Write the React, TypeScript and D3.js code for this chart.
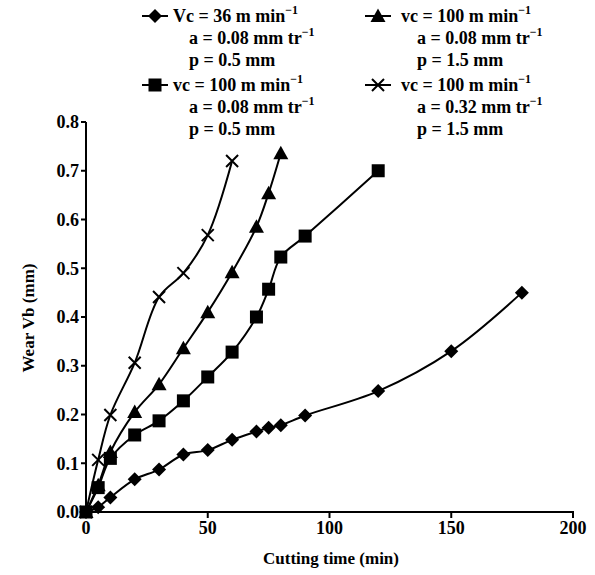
import React from "react";
import * as d3 from "d3";

const xTicks = [0, 50, 100, 150, 200];
const yTicks = [0, 0.1, 0.2, 0.3, 0.4, 0.5, 0.6, 0.7, 0.8];

const tDiamond = [0, 5, 10, 20, 30, 40, 50, 60, 70, 75, 80, 90, 120, 150, 179];
const vDiamond = [0, 0.01, 0.03, 0.067, 0.087, 0.118, 0.127, 0.148, 0.165, 0.173, 0.178, 0.198, 0.248, 0.33, 0.45];

const tSquare = [0, 5, 10, 20, 30, 40, 50, 60, 70, 75, 80, 90, 120];
const vSquare = [0, 0.05, 0.11, 0.158, 0.187, 0.228, 0.277, 0.328, 0.4, 0.457, 0.523, 0.566, 0.7];

const tTriangle = [0, 5, 10, 20, 30, 40, 50, 60, 70, 75, 80];
const vTriangle = [0, 0.055, 0.123, 0.205, 0.262, 0.336, 0.41, 0.492, 0.585, 0.654, 0.736];

const tCross = [0, 5, 10, 20, 30, 40, 50, 60];
const vCross = [0, 0.107, 0.199, 0.306, 0.441, 0.49, 0.568, 0.72];

const legendLines = [
  ["Vc = 36 m min", "a = 0.08 mm tr", "p = 0.5 mm"],
  ["vc = 100 m min", "a = 0.08 mm tr", "p = 0.5 mm"],
  ["vc = 100 m min", "a = 0.08 mm tr", "p = 1.5 mm"],
  ["vc = 100 m min", "a = 0.32 mm tr", "p = 1.5 mm"],
];

const FONT = "Liberation Serif";

function Marker({ kind, x, y }: { kind: string; x: number; y: number }) {
  if (kind === "diamond") {
    const s = 7;
    return <path d={`M${x},${y - s}L${x + s},${y}L${x},${y + s}L${x - s},${y}Z`} fill="#000" />;
  }
  if (kind === "square") {
    const s = 6.5;
    return <rect x={x - s} y={y - s} width={2 * s} height={2 * s} fill="#000" />;
  }
  if (kind === "triangle") {
    const s = 7.5;
    return <path d={`M${x},${y - s}L${x + s},${y + s * 0.8}L${x - s},${y + s * 0.8}Z`} fill="#000" />;
  }
  const s = 6;
  return (
    <path d={`M${x - s},${y - s}L${x + s},${y + s}M${x + s},${y - s}L${x - s},${y + s}`} stroke="#000" strokeWidth={2} />
  );
}

export default function App() {
  const W = 595, H = 575;
  const x = d3.scaleLinear().domain([0, 200]).range([86, 573]);
  const y = d3.scaleLinear().domain([0, 0.8]).range([512, 122]);
  const series = [
    { kind: "diamond", t: tDiamond, v: vDiamond },
    { kind: "square", t: tSquare, v: vSquare },
    { kind: "triangle", t: tTriangle, v: vTriangle },
    { kind: "cross", t: tCross, v: vCross },
  ];
  const line = d3
    .line<[number, number]>()
    .x((d) => x(d[0]))
    .y((d) => y(d[1]))
    .curve(d3.curveCatmullRom.alpha(0.5));

  const legendPos = [
    { mx: 155, my: 16, tx: 173, ax: 189 },
    { mx: 155, my: 85, tx: 173, ax: 189 },
    { mx: 378, my: 16, tx: 401, ax: 417 },
    { mx: 378, my: 85, tx: 401, ax: 417 },
  ];
  const tf = { fontFamily: FONT };

  return (
    <svg width={W} height={H} style={{ position: "absolute", left: 0, top: 0, background: "#fff" }}>
      {/* axes */}
      <line x1={x(0)} x2={x(0)} y1={y(0.8)} y2={y(0) + 1} stroke="#000" strokeWidth={2} />
      <line x1={x(0) - 1} x2={x(200) + 1} y1={y(0)} y2={y(0)} stroke="#000" strokeWidth={2} />
      {yTicks.map((t) => (
        <g key={"y" + t}>
          <line x1={x(0) - 5} x2={x(0)} y1={y(t)} y2={y(t)} stroke="#000" strokeWidth={2} />
          <text x={x(0) - 7} y={y(t)} dy="0.35em" textAnchor="end" fontSize={18} fontWeight="bold" style={tf}>
            {t.toFixed(1)}
          </text>
        </g>
      ))}
      {xTicks.map((t) => (
        <g key={"x" + t}>
          <line x1={x(t)} x2={x(t)} y1={y(0)} y2={y(0) + 6} stroke="#000" strokeWidth={2} />
          <text x={x(t)} y={y(0) + 22} textAnchor="middle" fontSize={18} fontWeight="bold" style={tf}>
            {t}
          </text>
        </g>
      ))}
      <text x={331} y={564} textAnchor="middle" fontSize={17} fontWeight="bold" style={tf}>
        Cutting time (min)
      </text>
      <text transform="translate(34,318) rotate(-90)" textAnchor="middle" fontSize={17} fontWeight="bold" style={tf}>
        Wear Vb (mm)
      </text>

      {/* series */}
      {series.map((s) => {
        const pts: [number, number][] = s.t.map((t, i) => [t, s.v[i]]);
        return (
          <g key={s.kind}>
            <path d={line(pts) || ""} fill="none" stroke="#000" strokeWidth={2} />
            {pts.map((p, i) => (
              <Marker key={i} kind={s.kind} x={x(p[0])} y={y(p[1])} />
            ))}
          </g>
        );
      })}

      {/* legend */}
      {legendLines.map((ls, i) => {
        const p = legendPos[i];
        const kind = series[i].kind;
        return (
          <g key={"lg" + i}>
            <line x1={p.mx - 13} x2={p.mx + 13} y1={p.my} y2={p.my} stroke="#000" strokeWidth={2} />
            <Marker kind={kind} x={p.mx} y={p.my} />
            <text x={p.tx} y={p.my + 6} fontSize={18} fontWeight="bold" style={tf}>
              {ls[0]}
              <tspan fontSize={12} dy={-8}>−1</tspan>
            </text>
            <text x={p.ax} y={p.my + 28} fontSize={18} fontWeight="bold" style={tf}>
              {ls[1]}
              <tspan fontSize={12} dy={-8}>−1</tspan>
            </text>
            <text x={p.ax} y={p.my + 50} fontSize={18} fontWeight="bold" style={tf}>
              {ls[2]}
            </text>
          </g>
        );
      })}
    </svg>
  );
}
